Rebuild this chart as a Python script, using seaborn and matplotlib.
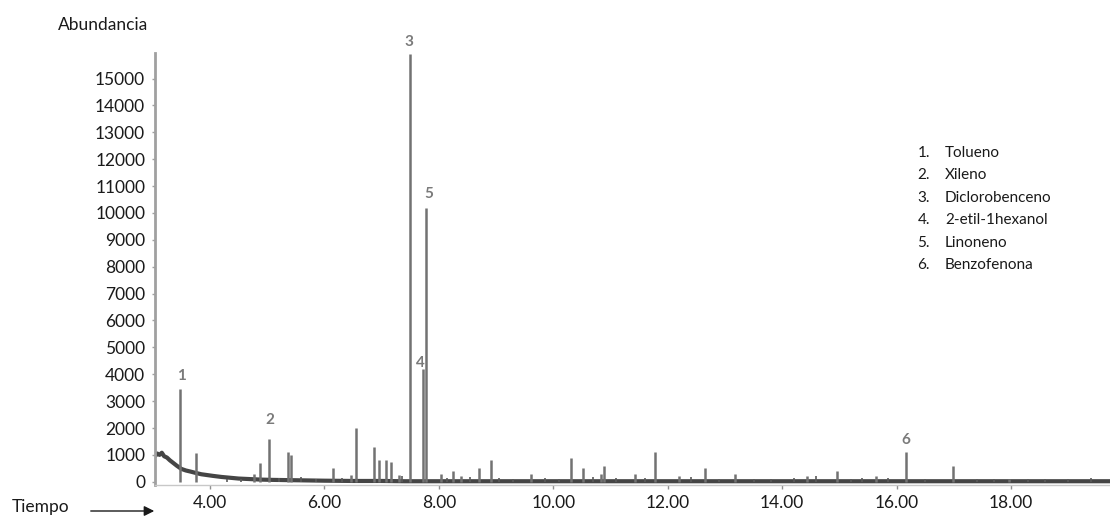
import numpy as np
import pandas as pd
import matplotlib
matplotlib.use("Agg")
import matplotlib.pyplot as plt
import seaborn as sns

# baseline of the chromatogram (time in min, abundance)
base_time = [3.04, 3.08, 3.12, 3.16, 3.20, 3.25, 3.30, 3.36, 3.42, 3.50, 3.58,
             3.66, 3.75, 3.85, 3.95, 4.05, 4.20, 4.35, 4.50, 4.70, 4.90, 5.10,
             5.40, 5.70, 6.00, 6.50, 7.00, 7.40, 8.00, 9.00, 10.00, 11.00,
             12.00, 13.00, 14.00, 15.00, 16.00, 17.00, 18.00, 19.00, 19.73]
base_value = [950, 1050, 1000, 1080, 950, 900, 800, 700, 600, 480, 420,
              380, 330, 280, 250, 220, 180, 150, 120, 100, 80, 70,
              60, 50, 40, 30, 30, 20, 20, 20, 20, 20,
              20, 20, 20, 20, 20, 20, 20, 20, 20]

# peaks (retention time, abundance)
peak_time = [3.47, 3.75, 4.77, 4.88, 5.03, 5.37, 5.42, 6.15, 6.47, 6.56,
             6.86, 6.95, 7.07, 7.16, 7.30, 7.49, 7.73, 7.77, 8.04, 8.25,
             8.39, 8.70, 8.92, 9.62, 10.31, 10.52, 10.84, 10.88, 11.43,
             11.78, 12.19, 12.65, 13.17, 14.44, 14.96, 15.64, 16.16, 16.99,
             17.97]
peak_value = [3450, 1060, 300, 700, 1600, 1100, 1000, 500, 250, 2000,
              1300, 800, 800, 750, 250, 15900, 4200, 10200, 300, 400,
              200, 500, 800, 300, 900, 500, 300, 600, 300,
              1100, 200, 500, 300, 200, 400, 200, 1100, 600,
              120]

# small noise spikes along the baseline
grass_time = [4.30, 4.55, 5.20, 5.60, 5.85, 6.30, 7.35, 8.15, 8.55, 9.05,
              9.30, 9.85, 10.10, 10.70, 11.10, 11.60, 12.40, 12.90, 13.50,
              13.80, 14.20, 14.60, 15.20, 15.40, 15.85, 16.50, 17.40, 17.70,
              18.30, 18.60, 19.00, 19.40]
grass_value = [120, 100, 150, 180, 120, 150, 200, 150, 180, 150,
               120, 150, 120, 180, 150, 150, 180, 120, 120,
               100, 150, 200, 120, 150, 150, 120, 120, 100,
               100, 120, 120, 150]

labels = ["1", "2", "3", "4", "5", "6"]
label_time = [3.50, 5.05, 7.48, 7.68, 7.82, 16.17]
label_value = [3950, 2300, 16350, 4400, 10700, 1560]

compounds = ["Tolueno", "Xileno", "Diclorobenceno", "2-etil-1hexanol",
             "Linoneno", "Benzofenona"]

sns.set_theme(style="white")
plt.rcParams["font.family"] = ["Lato", "DejaVu Sans"]

fig = plt.figure(figsize=(11.10, 5.17), dpi=100)
ax = fig.add_axes([0.1396, 0.0619, 0.8604, 0.8356])

base = pd.DataFrame({"time": base_time, "abund": base_value})
sns.lineplot(data=base, x="time", y="abund", ax=ax, color="#454545", lw=3)

ax.vlines(grass_time, 0, grass_value, color="#5a5a5a", lw=1.2)
ax.vlines(peak_time, 0, peak_value, color="#727272", lw=1.8)

for lab, t, v in zip(labels, label_time, label_value):
    ax.text(t, v, lab, ha="center", va="center", fontsize=11,
            color="#7a7a7a", fontweight="bold", clip_on=False)

ax.set_xlim(3.04, 19.73)
ax.set_ylim(-120, 15950)
ax.set_xticks([4, 6, 8, 10, 12, 14, 16, 18])
ax.set_xticklabels([f"{t:.2f}" for t in [4, 6, 8, 10, 12, 14, 16, 18]])
ax.set_yticks(range(0, 15001, 1000))
ax.set_yticklabels([str(v) for v in range(0, 15001, 1000)])
ax.set_xlabel("")
ax.set_ylabel("")

for s in ["top", "right"]:
    ax.spines[s].set_visible(False)
ax.spines["left"].set_color("#a0a0a0")
ax.spines["left"].set_linewidth(2)
ax.spines["bottom"].set_color("#c8c8c8")
ax.spines["bottom"].set_linewidth(1)
ax.tick_params(axis="y", left=True, length=2, width=1, color="#a0a0a0",
               pad=5, labelsize=12.5, labelcolor="#1a1a1a")
ax.tick_params(axis="x", bottom=True, length=3, width=1, color="#909090",
               pad=4, labelsize=12.5, labelcolor="#1a1a1a")

fig.text(148 / 1110, 1 - 25 / 517, "Abundancia", ha="right", va="center",
         fontsize=12.5, color="#1a1a1a")
fig.text(12 / 1110, 1 - 507 / 517, "Tiempo", ha="left", va="center",
         fontsize=12.5, color="#1a1a1a")
ax.annotate("", xy=(157, 517 - 511), xytext=(88, 517 - 511),
            xycoords="figure pixels", textcoords="figure pixels",
            arrowprops=dict(arrowstyle="-|>", color="#1a1a1a", lw=1,
                            mutation_scale=15))

# legend list of compounds
for i, name in enumerate(compounds):
    y = 1 - (153 + i * 22.4) / 517
    fig.text(930 / 1110, y, f"{i + 1}.", ha="right", va="center",
             fontsize=11, color="#1a1a1a")
    fig.text(945 / 1110, y, name, ha="left", va="center",
             fontsize=11, color="#1a1a1a")

fig.savefig("out.png", dpi=100)
